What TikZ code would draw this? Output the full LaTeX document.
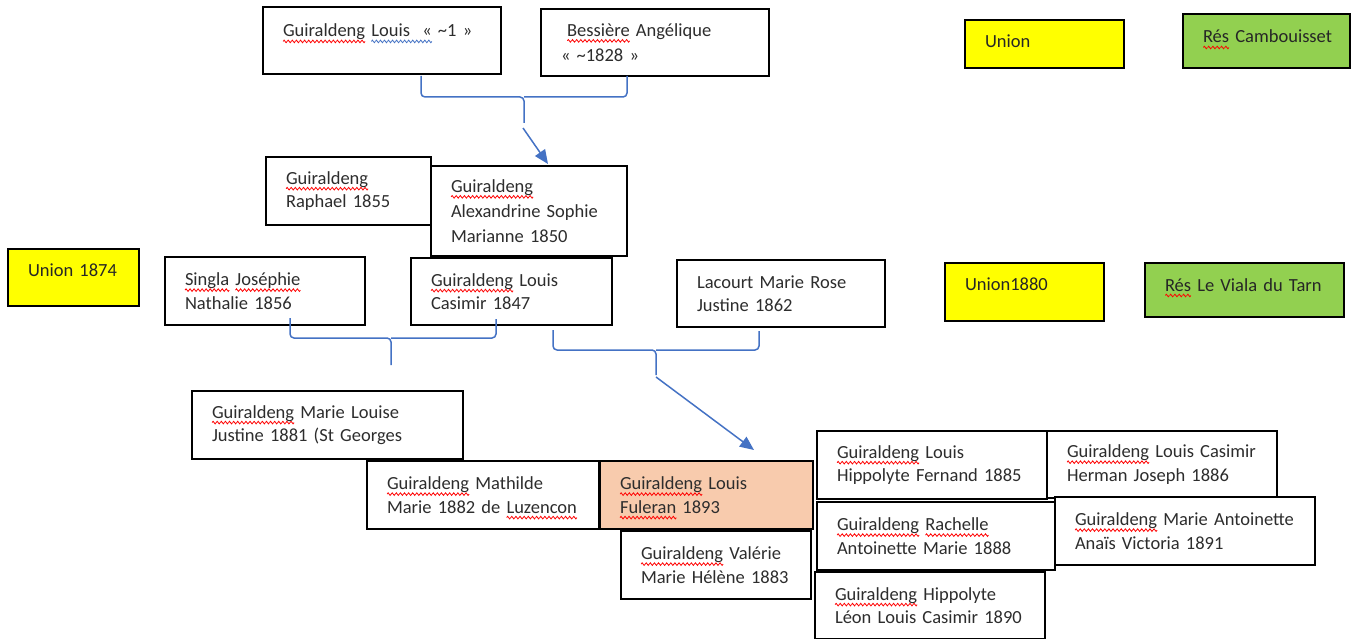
\documentclass[tikz,border=0pt]{standalone}
\usepackage{fontspec}
\setmainfont{Carlito}
\usetikzlibrary{arrows.meta}
\definecolor{txt}{RGB}{45,45,45}
\definecolor{brk}{RGB}{68,114,196}
\definecolor{yel}{RGB}{255,255,0}
\definecolor{grn}{RGB}{146,208,80}
\definecolor{pch}{RGB}{248,203,173}
\newcommand\wv[1]{\tikz[x=1pt,y=1pt,baseline=0pt]{\useasboundingbox (0,0) rectangle (4,0.1);\draw[draw=#1,fill=none,line width=0.8pt] (0,-4.5) sin (1,-3.2) cos (2,-4.5) sin (3,-5.8) cos (4,-4.5);}}
\newcommand\wavy[2]{\leavevmode\setbox0\hbox{#2}\rlap{\hbox to\wd0{\xleaders\hbox{\wv{#1}}\hfil}}\box0}
\newcommand\sq[1]{\wavy{red}{#1}}
\newcommand\bq[1]{\wavy{brk}{#1}}
\begin{document}
\begin{tikzpicture}[x=1pt,y=-1pt,
  box/.style={draw=black, line width=1.3pt, fill=white, text=txt, inner xsep=20pt, inner ysep=0pt, align=left, font=\fontsize{18.5}{23.5}\selectfont},
  ubox/.style={box, fill=yel, text=black!85},
  gbox/.style={box, fill=grn, text=black!85},
  brace/.style={draw=brk, line width=1.5pt, rounded corners=4pt},
  arr/.style={draw=brk, line width=1.5pt, -{Triangle[length=14pt,width=12pt]}}]
\useasboundingbox (0,0) rectangle (1351,639);

% top generation
\node[box, minimum width=238pt, minimum height=67pt, text width=198pt, text depth=20pt] (b1) at (382,40.5) {\sq{Guiraldeng}~\bq{Louis~~«}~\textasciitilde1~»};
\node[box, minimum width=228pt, minimum height=67pt, text width=188pt, font=\fontsize{18.5}{25}\selectfont] (b2) at (655,42.5) {~\sq{Bessière}~Angélique\\«~\textasciitilde1828~»};
\node[ubox, minimum width=159pt, minimum height=48pt, text width=119pt, text height=13pt, text depth=5pt] (u0) at (1044.5,44) {Union};
\node[gbox, minimum width=167pt, minimum height=54pt, text width=127pt, text height=13pt, text depth=9pt] (rc) at (1266.5,41) {\mbox{\sq{Rés}~Cambouisset}};

% second generation
\node[box, minimum width=165pt, minimum height=68pt, text width=125pt] (raph) at (348.5,191) {\sq{Guiraldeng}\\Raphael~1855};
\node[box, minimum width=196pt, minimum height=90pt, text width=156pt, font=\fontsize{18.5}{25}\selectfont] (alex) at (529,211) {\sq{Guiraldeng}\\Alexandrine~Sophie\\Marianne~1850};
\node[ubox, minimum width=131pt, minimum height=57pt, text width=91pt, text height=13pt, text depth=16pt] (u74) at (73.5,277.5) {Union~1874};
\node[box, minimum width=200pt, minimum height=68pt, text width=160pt] (sing) at (265,291) {\sq{Singla}~\sq{Joséphie}\\Nathalie~1856};
\node[box, minimum width=201pt, minimum height=67pt, text width=161pt] (lc47) at (511.5,291.5) {\sq{Guiraldeng}~Louis\\Casimir~1847};
\node[box, minimum width=208pt, minimum height=67pt, text width=168pt] (lac) at (781,293.5) {Lacourt~Marie~Rose\\Justine~1862};
\node[ubox, minimum width=159pt, minimum height=58pt, text width=119pt, text height=13pt, text depth=17pt] (u80) at (1024.5,292) {Union1880};
\node[gbox, minimum width=199pt, minimum height=54pt, text width=159pt, text height=13pt, text depth=11pt] (rv) at (1244.5,290) {\mbox{\sq{Rés}~Le~Viala~du~Tarn}};

% children
\node[box, minimum width=271pt, minimum height=68pt, text width=231pt] (ml) at (327.5,425) {\sq{Guiraldeng}~Marie~Louise\\Justine~1881~(St~Georges};
\node[box, minimum width=232pt, minimum height=68pt, text width=192pt] (ma) at (483,495) {\sq{Guiraldeng}~Mathilde\\Marie~1882~de~\sq{Luzencon}};
\node[box, fill=pch, minimum width=213pt, minimum height=68pt, text width=173pt] (lf) at (706.5,495) {\sq{Guiraldeng}~Louis\\\sq{Fuleran}~1893};
\node[box, minimum width=190pt, minimum height=68pt, text width=150pt] (va) at (716,565) {\sq{Guiraldeng}~Valérie\\Marie~Hélène~1883};
\node[box, minimum width=230pt, minimum height=68pt, text width=190pt] (hf) at (932,465) {\sq{Guiraldeng}~Louis\\Hippolyte~Fernand~1885};
\node[box, minimum width=230pt, minimum height=67pt, text width=190pt] (hj) at (1162,464.5) {\sq{Guiraldeng}~Louis~Casimir\\Herman~Joseph~1886};
\node[box, minimum width=238pt, minimum height=68pt, text width=198pt] (ra) at (936,536) {\sq{Guiraldeng}~\sq{Rachelle}\\Antoinette~Marie~1888};
\node[box, minimum width=260pt, minimum height=68pt, text width=220pt] (aa) at (1185,531) {\sq{Guiraldeng}~Marie~Antoinette\\Anaïs~Victoria~1891};
\node[box, minimum width=230pt, minimum height=67pt, text width=190pt] (hl) at (930,605.5) {\sq{Guiraldeng}~Hippolyte\\Léon~Louis~Casimir~1890};

% brackets and arrows
\coordinate (t1) at (421,76);
\coordinate (t2) at (627,76);
\coordinate (tm) at (524,97);
\coordinate (te) at (524,123);
\coordinate (ts) at (523,128);
\coordinate (ta) at (548,164);
\draw[brace] (t1) |- (tm) -- (te);
\draw[brace] (t2) |- (tm);
\draw[arr] (ts) -- (ta);

\coordinate (m1) at (290,318);
\coordinate (m2) at (496,319);
\coordinate (mm) at (391,338);
\coordinate (me) at (391,365);
\draw[brace] (m1) |- (mm) -- (me);
\draw[brace] (m2) |- (mm);

\coordinate (r1) at (553,330);
\coordinate (r2) at (759,331);
\coordinate (rm) at (656,350);
\coordinate (re) at (656,375);
\coordinate (rs) at (656,377);
\coordinate (ra) at (754,450);
\draw[brace] (r1) |- (rm) -- (re);
\draw[brace] (r2) |- (rm);
\draw[arr] (rs) -- (ra);
\end{tikzpicture}
\end{document}
